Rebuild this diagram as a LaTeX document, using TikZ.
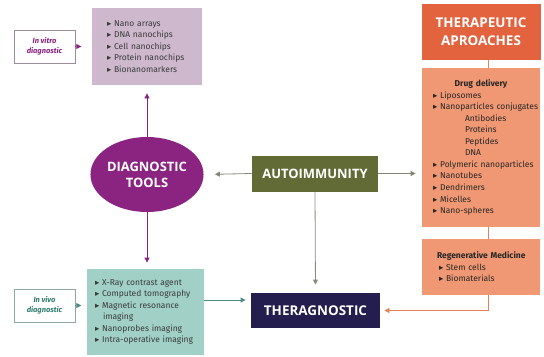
\documentclass[tikz,border=0pt]{standalone}
\usepackage{fontspec}
\setmainfont{Fira Sans}
\newfontfamily\headfont{Open Sans}
\newfontfamily\symfont{DejaVu Sans}
\usetikzlibrary{arrows,arrows.meta,shapes,calc,positioning}
\definecolor{nanofill}{HTML}{CDB8CD}
\definecolor{diagpurple}{HTML}{8B2380}
\definecolor{tealfill}{HTML}{A0D0C6}
\definecolor{tealline}{HTML}{4C8C80}
\definecolor{tealtext}{HTML}{2F7E6E}
\definecolor{olive}{HTML}{626B35}
\definecolor{navy}{HTML}{231E4E}
\definecolor{thercol}{HTML}{E3633E}
\definecolor{drugfill}{HTML}{EF9873}
\definecolor{orangeline}{HTML}{E9805D}
\definecolor{grayline}{HTML}{8A8C80}
\definecolor{listtext}{HTML}{3A3A3A}
\definecolor{vitroline}{HTML}{9C8C9C}
\definecolor{vivoline}{HTML}{8FA8A2}
\newcommand{\bul}{{\symfont\char"25B8}\ }

\begin{document}
\begin{tikzpicture}[x=1bp,y=-1bp,line width=0.8pt,>={Triangle[length=5bp,width=5bp]},
  listbox/.style={rectangle,inner ysep=0pt,align=left,text=listtext,font=\fontsize{8.5}{11.6}\selectfont},
  headbox/.style={rectangle,inner sep=0pt,align=center,text=white,font=\headfont\fontsize{13}{17}\selectfont\bfseries},
  notebox/.style={rectangle,draw,line width=0.6pt,fill=white,align=center,minimum width=61bp,minimum height=33bp,font=\fontsize{7.5}{9.5}\selectfont\bfseries\itshape}]
\useasboundingbox (0,0) rectangle (544,356);
\coordinate (LINKX) at (488,0);
\coordinate (VIVOY) at (0,300);
%diagnostic side
\node[listbox,fill=nanofill,minimum width=110bp,minimum height=77bp,inner xsep=15bp,text width=80bp] (NANOBOX) at (147,46.5) {\bul Nano arrays\\ \bul DNA nanochips\\ \bul Cell nanochips\\ \mbox{\bul Protein nanochips}\\ \bul Bionanomarkers};
\node[ellipse,fill=diagpurple,inner sep=0pt,minimum width=113bp,minimum height=75bp,align=center,text=white,font=\headfont\fontsize{13}{16}\selectfont\bfseries] (DIAG) at (147,174.5) {DIAGNOSTIC\\TOOLS};
\node[listbox,fill=tealfill,minimum width=117bp,minimum height=86bp,inner xsep=8bp,text width=101bp] (TEAL) at (145.5,312) {\mbox{\bul X-Ray contrast agent}\\ \mbox{\bul Computed tomography}\\ \bul Magnetic resonance\\ \hspace*{8bp}imaging\\ \mbox{\bul Nanoprobes imaging}\\ \mbox{\bul Intra-operative imaging}};
\node[notebox,draw=vitroline,text=diagpurple] (INVITRO) at (44.5,46.5) {In vitro\\diagnostic};
\node[notebox,draw=vivoline,text=tealtext] (INVIVO) at (44.5,305.5) {In vivo\\diagnostic};
%centre
\node[headbox,fill=olive,minimum width=126bp,minimum height=36bp] (AUTO) at (315,173.5) {AUTOIMMUNITY};
\node[headbox,fill=navy,minimum width=129bp,minimum height=35bp,font=\headfont\fontsize{13.5}{17}\selectfont\bfseries] (THERAG) at (315.5,310.5) {THERAGNOSTIC};
%therapeutic side
\node[headbox,fill=thercol,minimum width=119bp,minimum height=56bp,font=\headfont\fontsize{13.5}{18}\selectfont\bfseries] (THERAP) at (481,32) {THERAPEUTIC\\APROACHES};
\node[listbox,fill=drugfill,minimum width=118bp,minimum height=159bp,inner xsep=11bp,text width=96bp,text=black!85] (DRUG) at (481,147.5) {\makebox[96bp]{\bfseries Drug delivery}\\ \bul Liposomes\\ \mbox{\bul Nanoparticles conjugates}\\ \hspace*{32bp}Antibodies\\ \hspace*{32bp}Proteins\\ \hspace*{32bp}Peptides\\ \hspace*{32bp}DNA\\ \mbox{\bul Polymeric nanoparticles}\\ \bul Nanotubes\\ \bul Dendrimers\\ \bul Micelles\\ \bul Nano-spheres};
\node[listbox,fill=drugfill,minimum width=118bp,minimum height=56bp,inner xsep=15bp,text width=88bp,text=black!85] (REGEN) at (481,267) {\mbox{\bfseries Regenerative Medicine}\\ \hspace*{2bp}\bul Stem cells\\ \hspace*{2bp}\bul Biomaterials};
%links
\draw[diagpurple,->,shorten >=1bp] (INVITRO.east) -- ++(7,0);
\draw[tealline,->,shorten >=1bp] (INVIVO.east) -- ++(7,0);
\draw[diagpurple,->,shorten >=8bp] (DIAG.north) -- (NANOBOX.south);
\draw[diagpurple,->,shorten >=6bp] (DIAG.south) -- (DIAG.south |- TEAL.north);
\draw[grayline!80!olive,->,shorten >=11bp] (AUTO.west) -- (DIAG.east);
\draw[grayline!80!olive,->,shorten >=6bp] (AUTO.east) -- (DRUG.west |- AUTO.east);
\draw[grayline,->,shorten >=8bp] (AUTO.south) -- (THERAG.north);
\draw[tealline,->,shorten >=5bp] (TEAL.east |- VIVOY) -- (THERAG.west |- VIVOY);
\draw[orangeline] (THERAP.south -| LINKX) -- (DRUG.north -| LINKX);
\draw[orangeline] (DRUG.south -| LINKX) -- (REGEN.north -| LINKX);
\draw[orangeline,->,shorten >=4bp] (REGEN.south -| LINKX) |- (THERAG.east);
\end{tikzpicture}
\end{document}
